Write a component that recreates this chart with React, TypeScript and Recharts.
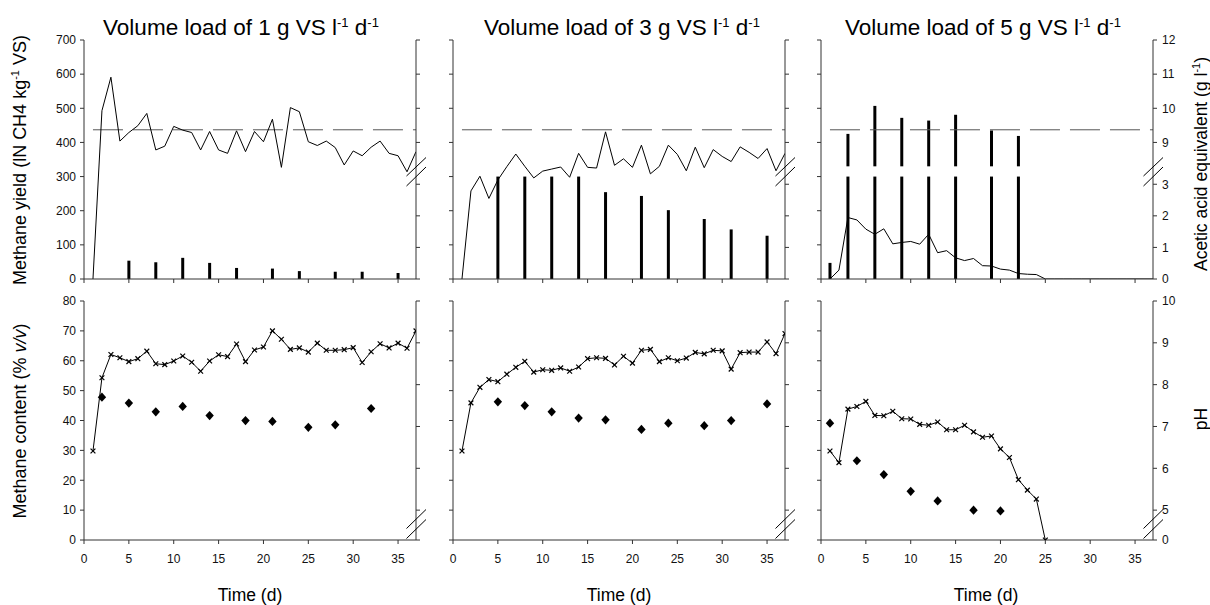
import React from 'react';
import { ComposedChart, Line, Bar, XAxis, YAxis } from 'recharts';

// ---------- DATA ----------
const days = [1, 2, 3, 4, 5, 6, 7, 8, 9, 10, 11, 12, 13, 14, 15, 16, 17, 18, 19, 20, 21, 22, 23, 24, 25, 26, 27, 28, 29, 30, 31, 32, 33, 34, 35, 36, 37];
const loadLabels = ['1', '3', '5'];

// methane yield (lN CH4 / kg VS)
const yield1 = [0, 493, 591, 404, 429, 449, 485, 378, 389, 447, 436, 429, 378, 432, 378, 368, 434, 373, 432, 402, 468, 327, 502, 490, 402, 391, 404, 385, 334, 375, 361, 386, 404, 368, 361, 314, 373];
const yield2 = [0, 258, 301, 236, 290, 329, 366, 330, 296, 316, 322, 328, 298, 368, 327, 325, 431, 333, 352, 327, 392, 308, 330, 392, 365, 317, 386, 326, 379, 359, 344, 387, 371, 353, 382, 317, 368];
const yield3 = [0, 26, 180, 173, 146, 131, 147, 103, 107, 110, 102, 131, 77, 83, 62, 54, 60, 39, 38, 29, 26, 16, 14, 13, 0, 0, 0, 0, 0, 0, 0, 0, 0, 0, 0, 0, 0];
const referenceYield = 437;
const referenceDays = [1, 37];

// acetic acid equivalent (g/l)
const aceticDays1 = [5, 8, 11, 14, 17, 21, 24, 28, 31, 35];
const acetic1 = [0.58, 0.53, 0.67, 0.51, 0.35, 0.33, 0.25, 0.23, 0.23, 0.19];
const aceticDays2 = [5, 8, 11, 14, 17, 21, 24, 28, 31, 35];
const acetic2 = [5, 5, 5, 5, 2.75, 2.63, 2.18, 1.9, 1.57, 1.37];
const aceticDays3 = [1, 3, 6, 9, 12, 15, 19, 22];
const acetic3 = [0.51, 9.25, 10.07, 9.72, 9.64, 9.81, 9.35, 9.19];

// methane content (% v/v)
const content1 = [29.8, 54.3, 62.1, 61.0, 59.7, 60.7, 63.2, 59.0, 58.7, 59.9, 61.6, 59.5, 56.5, 59.9, 62.0, 61.4, 65.6, 59.7, 63.6, 64.6, 70.0, 67.2, 63.8, 64.3, 62.9, 65.9, 63.5, 63.5, 63.7, 64.4, 59.4, 63.0, 65.7, 64.3, 65.9, 64.2, 70.0];
const content2 = [29.8, 45.9, 51.1, 53.7, 53.0, 55.5, 57.8, 59.8, 56.2, 57.0, 56.8, 57.6, 56.5, 57.9, 60.7, 61.0, 60.8, 58.6, 61.5, 59.2, 63.5, 63.8, 59.7, 61.0, 60.0, 60.9, 62.8, 62.3, 63.5, 63.3, 57.2, 62.7, 62.9, 62.9, 66.3, 62.4, 69.1];
const content3 = [29.8, 25.9, 43.8, 44.7, 46.4, 41.7, 41.6, 43.1, 40.6, 40.5, 38.7, 38.4, 39.5, 36.9, 36.9, 38.4, 36.2, 34.4, 34.8, 30.5, 27.6, 20.2, 16.7, 13.7, 0];

// pH
const phDays1 = [2, 5, 8, 11, 14, 18, 21, 25, 28, 32];
const ph1 = [7.7, 7.56, 7.35, 7.48, 7.26, 7.14, 7.12, 6.98, 7.04, 7.43];
const phDays2 = [5, 8, 11, 14, 17, 21, 24, 28, 31, 35];
const ph2 = [7.59, 7.5, 7.35, 7.2, 7.16, 6.93, 7.08, 7.02, 7.14, 7.54];
const phDays3 = [1, 4, 7, 10, 13, 17, 20];
const ph3 = [7.08, 6.18, 5.85, 5.45, 5.22, 5.0, 4.98];

// ticks
const dayTicks = [0, 5, 10, 15, 20, 25, 30, 35];
const yieldTicks = [0, 100, 200, 300, 400, 500, 600, 700];
const aceticTicks = [0, 1, 2, 3, 9, 10, 11, 12];
const contentTicks = [0, 10, 20, 30, 40, 50, 60, 70, 80];
const phTicks = [0, 5, 6, 7, 8, 9, 10];

// ---------- broken-axis mappings (onto the left axis units) ----------
const LOW_UNIT = 92.5; // acetic 0..3 segment
const LOW_CAP = 300;
const HIGH_START = 330;
const aceticToAxis = (v: number) => (v <= 3.2 ? v * LOW_UNIT : 400 + (v - 9) * 100);
const HIGH_MIN_VALUE = 8.3;
const phToAxis = (p: number) => (p <= 0 ? 0 : 10 + (p - 5) * 14);

// ---------- style ----------
const FONT = '"Liberation Sans", Arial, Helvetica, sans-serif';
const AXIS = '#333';
const PLOT_W = 332;
const AX_W = 50;
const COL_X = [84, 453, 821];
const ROW_TOP = [30, 291];
const CHART_H = 279;

const tickStyle = { fill: '#111', fontSize: 12, fontFamily: FONT };
const blank = () => '';

const xAxisProps = (labels: boolean) => ({
  dataKey: 'day',
  type: 'number' as const,
  domain: [0, 37],
  ticks: dayTicks,
  interval: 0 as const,
  allowDataOverflow: true,
  height: 30,
  tickSize: 4,
  tickMargin: 10,
  tick: tickStyle,
  tickFormatter: labels ? (v: number) => String(v) : blank,
  axisLine: { stroke: AXIS },
  tickLine: { stroke: AXIS },
});

const XDot = (props: any) => {
  const { cx, cy, index } = props;
  if (cx == null || cy == null || isNaN(cy)) return <g key={'x' + index} />;
  const r = 2.4;
  return (
    <g key={'x' + index} stroke="#000" strokeWidth={1.2}>
      <line x1={cx - r} y1={cy - r} x2={cx + r} y2={cy + r} />
      <line x1={cx - r} y1={cy + r} x2={cx + r} y2={cy - r} />
    </g>
  );
};

const Diamond = (props: any) => {
  const { cx, cy, index } = props;
  if (cx == null || cy == null || isNaN(cy)) return <g key={'d' + index} />;
  const w = 4.2;
  const h = 4.6;
  return (
    <polygon
      key={'d' + index}
      points={`${cx},${cy - h} ${cx + w},${cy} ${cx},${cy + h} ${cx - w},${cy}`}
      fill="#000"
    />
  );
};

function TopPanel({ col, yields, accDays, accVals }: any) {
  const data = days.map((d, i) => {
    const k = accDays.indexOf(d);
    const v = k >= 0 ? accVals[k] : null;
    const hasHigh = v != null && v > HIGH_MIN_VALUE;
    return {
      day: d,
      yieldVal: yields[i],
      refYield: referenceDays.includes(d) ? referenceYield : null,
      accLow: v == null ? 0 : Math.min(v * LOW_UNIT, LOW_CAP),
      accGap: hasHigh ? HIGH_START - LOW_CAP : 0,
      accHigh: hasHigh ? aceticToAxis(v as number) - HIGH_START : 0,
    };
  });
  const showLeft = col === 0;
  const showRight = col === 2;
  return (
    <div style={{ position: 'absolute', left: COL_X[col] - AX_W, top: ROW_TOP[0] }}>
      <ComposedChart width={PLOT_W + 2 * AX_W} height={CHART_H} data={data} margin={{ top: 10, right: 0, bottom: 0, left: 0 }}>
        <XAxis {...xAxisProps(false)} />
        <YAxis
          yAxisId="L"
          domain={[0, 700]}
          ticks={yieldTicks}
          interval={0}
          width={AX_W}
          tickSize={4}
          tickMargin={4}
          tick={tickStyle}
          tickFormatter={showLeft ? (v: number) => String(v) : blank}
          axisLine={{ stroke: AXIS }}
          tickLine={{ stroke: AXIS }}
          allowDataOverflow
        />
        <YAxis
          yAxisId="R"
          orientation="right"
          domain={[0, 700]}
          ticks={aceticTicks.map(aceticToAxis)}
          interval={0}
          width={AX_W}
          tickSize={4}
          tickMargin={5}
          tick={tickStyle}
          tickFormatter={
            showRight
              ? (v: number) => {
                  const t = aceticTicks.find((a) => Math.abs(aceticToAxis(a) - v) < 0.01);
                  return t == null ? '' : String(t);
                }
              : blank
          }
          axisLine={{ stroke: AXIS }}
          tickLine={{ stroke: AXIS }}
          allowDataOverflow
        />
        <Line yAxisId="L" dataKey="refYield" connectNulls stroke="#555" strokeWidth={1} strokeDasharray="30 10" dot={false} activeDot={false} isAnimationActive={false} />
        <Bar yAxisId="R" dataKey="accLow" stackId="a" fill="#000" barSize={3} isAnimationActive={false} />
        <Bar yAxisId="R" dataKey="accGap" stackId="a" fill="transparent" barSize={3} isAnimationActive={false} />
        <Bar yAxisId="R" dataKey="accHigh" stackId="a" fill="#000" barSize={3} isAnimationActive={false} />
        <Line yAxisId="L" dataKey="yieldVal" stroke="#000" strokeWidth={1} dot={false} activeDot={false} isAnimationActive={false} />
      </ComposedChart>
    </div>
  );
}

function BottomPanel({ col, contents, phD, phV }: any) {
  const data = days.map((d, i) => {
    const k = phD.indexOf(d);
    return {
      day: d,
      content: i < contents.length ? contents[i] : null,
      phDisp: k >= 0 ? phToAxis(phV[k]) : null,
    };
  });
  const showLeft = col === 0;
  const showRight = col === 2;
  return (
    <div style={{ position: 'absolute', left: COL_X[col] - AX_W, top: ROW_TOP[1] }}>
      <ComposedChart width={PLOT_W + 2 * AX_W} height={CHART_H} data={data} margin={{ top: 10, right: 0, bottom: 0, left: 0 }}>
        <XAxis {...xAxisProps(true)} />
        <YAxis
          yAxisId="L"
          domain={[0, 80]}
          ticks={contentTicks}
          interval={0}
          width={AX_W}
          tickSize={4}
          tickMargin={4}
          tick={tickStyle}
          tickFormatter={showLeft ? (v: number) => String(v) : blank}
          axisLine={{ stroke: AXIS }}
          tickLine={{ stroke: AXIS }}
          allowDataOverflow
        />
        <YAxis
          yAxisId="R"
          orientation="right"
          domain={[0, 80]}
          ticks={phTicks.map(phToAxis)}
          interval={0}
          width={AX_W}
          tickSize={4}
          tickMargin={5}
          tick={tickStyle}
          tickFormatter={
            showRight
              ? (v: number) => {
                  const t = phTicks.find((a) => Math.abs(phToAxis(a) - v) < 0.01);
                  return t == null ? '' : String(t);
                }
              : blank
          }
          axisLine={{ stroke: AXIS }}
          tickLine={{ stroke: AXIS }}
          allowDataOverflow
        />
        <Line yAxisId="L" dataKey="content" stroke="#000" strokeWidth={1} dot={XDot} activeDot={false} isAnimationActive={false} />
        <Line yAxisId="R" dataKey="phDisp" stroke="none" dot={Diamond} activeDot={false} isAnimationActive={false} />
      </ComposedChart>
    </div>
  );
}

function Overlay() {
  const titleX = [241, 622, 983];
  const timeX = [250, 619, 986];
  const breaks: any[] = [];
  COL_X.forEach((x0, c) => {
    const ax = x0 + PLOT_W;
    [[176, 157.5], [186, 167], [528.5, 509.5], [538.5, 519.5]].forEach(([y1, y2], k) => {
      breaks.push(<line key={`b${c}-${k}`} x1={ax - 9.5} y1={y1} x2={ax + 10} y2={y2} stroke="#000" strokeWidth={1} />);
    });
  });
  return (
    <svg width={1210} height={605} style={{ position: 'absolute', left: 0, top: 0, pointerEvents: 'none' }} fontFamily={FONT}>
      {loadLabels.map((l, i) => (
        <text key={'t' + i} x={titleX[i]} y={35} textAnchor="middle" fontSize={22.5} fill="#000">
          {`Volume load of ${l} g VS l`}
          <tspan dy={-8} fontSize={13}>-1</tspan>
          <tspan dy={8}> d</tspan>
          <tspan dy={-8} fontSize={13}>-1</tspan>
        </text>
      ))}
      <text transform="translate(26,160) rotate(-90)" textAnchor="middle" fontSize={18} fill="#000">
        Methane yield (lN CH4 kg<tspan dy={-7} fontSize={11}>-1</tspan>
        <tspan dy={7}> VS)</tspan>
      </text>
      <text transform="translate(26,421) rotate(-90)" textAnchor="middle" fontSize={18} fill="#000">
        Methane content (%{' '}<tspan fontStyle="italic">v/v</tspan>)
      </text>
      <text transform="translate(1207,164) rotate(-90)" textAnchor="middle" fontSize={17.5} fill="#000">
        Acetic acid equivalent (g l<tspan dy={-7} fontSize={11}>-1</tspan>
        <tspan dy={7}>)</tspan>
      </text>
      <text transform="translate(1207,419) rotate(-90)" textAnchor="middle" fontSize={17.5} fill="#000">
        pH
      </text>
      {timeX.map((x, i) => (
        <text key={'tm' + i} x={x} y={601} textAnchor="middle" fontSize={17.5} fill="#000">
          Time (d)
        </text>
      ))}
      {breaks}
    </svg>
  );
}

export default function App() {
  return (
    <div style={{ position: 'absolute', left: 0, top: 0, width: 1210, height: 605, background: '#fff', fontFamily: FONT }}>
      <TopPanel col={0} yields={yield1} accDays={aceticDays1} accVals={acetic1} />
      <TopPanel col={1} yields={yield2} accDays={aceticDays2} accVals={acetic2} />
      <TopPanel col={2} yields={yield3} accDays={aceticDays3} accVals={acetic3} />
      <BottomPanel col={0} contents={content1} phD={phDays1} phV={ph1} />
      <BottomPanel col={1} contents={content2} phD={phDays2} phV={ph2} />
      <BottomPanel col={2} contents={content3} phD={phDays3} phV={ph3} />
      <Overlay />
    </div>
  );
}
